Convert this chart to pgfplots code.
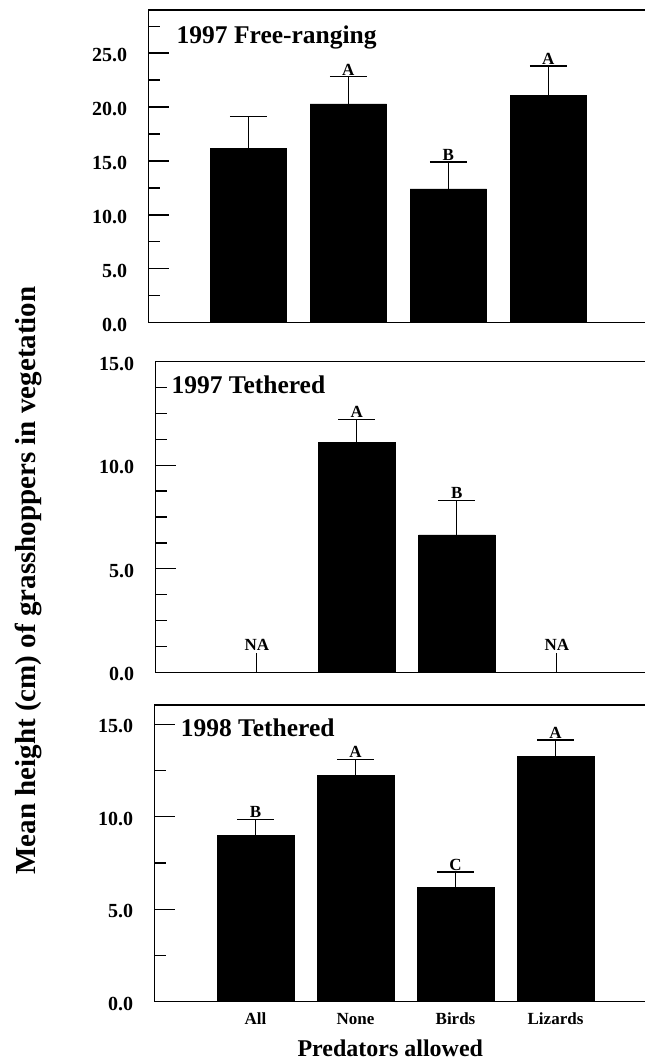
\documentclass[border=0pt]{standalone}
\usepackage{pgfplots}
\pgfplotsset{compat=1.18}
\usepackage{fontspec}
\setmainfont{Liberation Serif}

\pgfplotsset{
  panel/.style={
    scale only axis,
    anchor=south west,
    axis line style={line width=1.3pt},
    ymin=0,
    ytick pos=left,
    tick align=inside,
    major tick length=20pt,
    minor tick length=11pt,
    every tick/.style={black,line width=1.3pt},
    /pgf/number format/assume math mode=true,
    yticklabel style={font=\fontsize{20}{24}\selectfont\bfseries, xshift=-18pt, yshift=-2pt,
      /pgf/number format/.cd, fixed, fixed zerofill, precision=1},
    clip=false,
  },
  bars/.style={ybar, fill=black, draw=black, bar width=0.765,
    error bars/.cd, y dir=plus, y explicit,
    error bar style={line width=1.2pt, black},
    error mark options={rotate=90, line width=1.2pt, black, mark size=18.4pt}},
}
\tikzset{
  letter/.style={anchor=south, inner sep=1.5pt, font=\fontsize{17}{17}\selectfont\bfseries},
  ttl/.style={anchor=base west, inner sep=0pt, font=\fontsize{25.5}{26}\selectfont\bfseries},
}

\begin{document}
\begin{tikzpicture}[x=1pt,y=1pt]
\useasboundingbox (0,0) rectangle (645,1061);

% Panel 1: 1997 Free-ranging
\begin{axis}[panel,
  at={(148.7pt,738.3pt)}, width=499pt, height=312.7pt,
  xmin=-0.996, xmax=3.994, ymax=29,
  xtick=\empty,
  ytick={0,5,10,15,20,25},
  minor ytick={2.5,7.5,12.5,17.5,22.5,27.5},
]
\addplot[bars] coordinates {
  (0,16.2) +- (0,2.9)
  (1,20.3) +- (0,2.5)
  (2,12.4) +- (0,2.5)
  (3,21.1) +- (0,2.7)
};
\node[ttl] at (axis cs:-0.718,25.9) {1997 Free-ranging};
\node[letter] at (axis cs:1,22.8) {A};
\node[letter] at (axis cs:2,14.9) {B};
\node[letter] at (axis cs:3,23.8) {A};
\end{axis}

% Panel 2: 1997 Tethered
\begin{axis}[panel,
  at={(155.6pt,388.7pt)}, width=492pt, height=310.6pt,
  xmin=-1.012, xmax=3.908, ymax=15,
  xtick=\empty,
  ytick={0,5,10,15},
  minor ytick={1.25,2.5,3.75,6.25,7.5,8.75,11.25,12.5,13.75},
]
\addplot[bars] coordinates {
  (1,11.1) +- (0,1.1)
  (2,6.64) +- (0,1.65)
};
\addplot[ycomb, black, line width=1.2pt, mark=none] coordinates {(0,0.95) (3,0.95)};
\node[ttl] at (axis cs:-0.855,13.44) {1997 Tethered};
\node[letter] at (axis cs:1,12.2) {A};
\node[letter] at (axis cs:2,8.29) {B};
\node[letter] at (axis cs:0,0.95) {NA};
\node[letter] at (axis cs:3,0.95) {NA};
\end{axis}

% Panel 3: 1998 Tethered
\begin{axis}[panel,
  at={(154.6pt,59.3pt)}, width=493pt, height=296.7pt,
  xmin=-1.009, xmax=3.921, ymax=16.05,
  xtick={0,1,2,3},
  xticklabels={All,None,Birds,Lizards},
  x tick style={draw=none},
  xticklabel style={anchor=base, yshift=-23.3pt, font=\fontsize{17}{18}\selectfont\bfseries},
  ytick={0,5,10,15},
  minor ytick={2.5,7.5,12.5},
]
\addplot[bars] coordinates {
  (0,9.0) +- (0,0.87)
  (1,12.25) +- (0,0.87)
  (2,6.17) +- (0,0.85)
  (3,13.26) +- (0,0.9)
};
\node[ttl] at (axis cs:-0.749,14.34) {1998 Tethered};
\node[letter] at (axis cs:0,9.87) {B};
\node[letter] at (axis cs:1,13.12) {A};
\node[letter] at (axis cs:2,7.02) {C};
\node[letter] at (axis cs:3,14.16) {A};
\end{axis}

\node[anchor=base, font=\fontsize{24}{26}\selectfont\bfseries] at (390.3,5) {Predators allowed};
\node[rotate=90, font=\fontsize{29}{30}\selectfont\bfseries] at (28,480.5) {Mean height (cm) of grasshoppers in vegetation};
\end{tikzpicture}
\end{document}
